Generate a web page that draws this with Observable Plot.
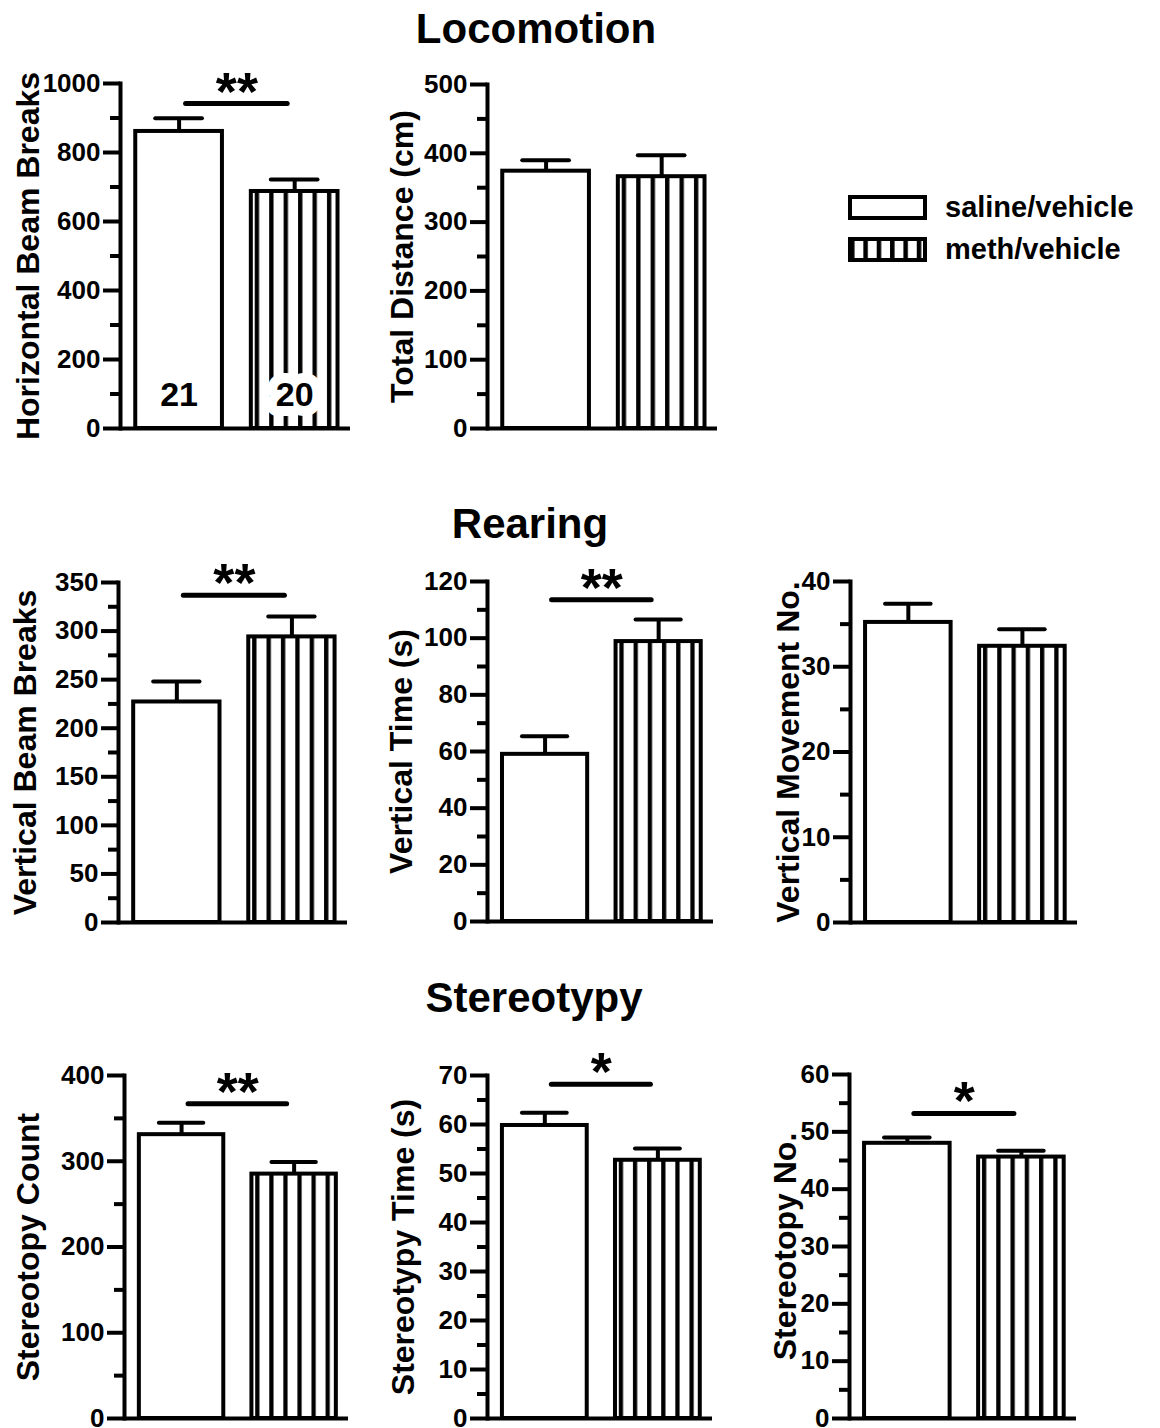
<!DOCTYPE html>
<html>
<head>
<meta charset="utf-8">
<script src="https://cdn.jsdelivr.net/npm/d3@7"></script>
<script src="https://cdn.jsdelivr.net/npm/@observablehq/plot@0.6"></script>
<style>
  body { margin: 0; background: #fff; }
  #page { position: relative; width: 1160px; height: 1428px; overflow: hidden; background: #fff;
          font-family: "Liberation Sans", Arial, Helvetica, sans-serif; font-weight: bold; color: #000; }
  .title { position: absolute; font-size: 42px; line-height: 42px; white-space: nowrap; transform: translateX(-50%); }
  .panel { position: absolute; }
  .legrow { position: absolute; display: flex; align-items: center; height: 29px; font-size: 29px; white-space: nowrap; }
  .legrow span { margin-left: 14px; }
</style>
</head>
<body>
<svg width="0" height="0" style="position:absolute">
  <defs>
    <pattern id="stripes" patternUnits="objectBoundingBox" patternContentUnits="objectBoundingBox" x="0" y="0" width="0.16667" height="1">
      <rect x="0" y="0" width="0.16667" height="1" fill="white"></rect>
      <rect x="0.045" y="0" width="0.05" height="1" fill="black"></rect>
    </pattern>
    <pattern id="stripesLegend" patternUnits="objectBoundingBox" patternContentUnits="objectBoundingBox" x="0" y="0" width="0.178" height="1">
      <rect x="0" y="0" width="0.178" height="1" fill="white"></rect>
      <rect x="0" y="0" width="0.06" height="1" fill="black"></rect>
    </pattern>
  </defs>
</svg>
<div id="page"></div>
<script>
// ---------- data ----------
const groups = ["saline/vehicle", "meth/vehicle"];
const sectionTitles = ["Locomotion", "Rearing", "Stereotypy"];
const panelLabels = ["Horizontal Beam Breaks", "Total Distance (cm)", "Vertical Beam Breaks", "Vertical Time (s)",
                     "Vertical Movement No.", "Stereotopy Count", "Stereotypy Time (s)", "Stereotopy No."];
const meanSaline = [861, 374, 227, 59.0, 35.2, 331, 59.8, 48.0];
const meanMeth   = [687, 366, 294, 98.8, 32.4, 285, 52.7, 45.6];
const semSaline  = [38, 16, 21, 6.4, 2.2, 14, 2.6, 1.0];
const semMeth    = [35, 31, 21, 7.8, 2.0, 14, 2.4, 1.1];
const yMax = [1000, 500, 350, 120, 40, 400, 70, 60];
const majorTicks = [
  [0, 200, 400, 600, 800, 1000],
  [0, 100, 200, 300, 400, 500],
  [0, 50, 100, 150, 200, 250, 300, 350],
  [0, 20, 40, 60, 80, 100, 120],
  [0, 10, 20, 30, 40],
  [0, 100, 200, 300, 400],
  [0, 10, 20, 30, 40, 50, 60, 70],
  [0, 10, 20, 30, 40, 50, 60]
];
const minorTicks = [
  [100, 300, 500, 700, 900],
  [50, 150, 250, 350, 450],
  [25, 75, 125, 175, 225, 275, 325],
  [10, 30, 50, 70, 90, 110],
  [5, 15, 25, 35],
  [50, 150, 250, 350],
  [5, 15, 25, 35, 45, 55, 65],
  [5, 15, 25, 35, 45, 55]
];
const sigStars = ["**", null, "**", "**", null, "**", "*", "*"];
const sigLevel = [942, null, 337, 113.6, null, 367, 68.2, 53.2];
const groupN = [21, 20];

// ---------- layout (pixels) ----------
// axisX, topY, zeroY, frameWidth, labelOffset
const layout = [
  [120, 83, 428, 230, 82],
  [487, 84, 428, 230, 75],
  [118, 582, 922, 229, 83],
  [487, 581, 921, 226, 76],
  [850, 581, 922, 227, 52],
  [124, 1075, 1418, 224, 86],
  [487, 1075, 1418, 225, 74],
  [849, 1074, 1418, 227, 54]
];
const titlePos = [[536, 8], [530, 503], [534, 977]];

const page = document.getElementById("page");
const FONT = '"Liberation Sans", Arial, Helvetica, sans-serif';

sectionTitles.forEach((t, k) => {
  const d = document.createElement("div");
  d.className = "title";
  d.textContent = t;
  d.style.left = titlePos[k][0] + "px";
  d.style.top = titlePos[k][1] + "px";
  page.appendChild(d);
});

function makePanel(i) {
  const [ax, top, zero, fw, lo] = layout[i];
  const mL = 118, mR = 14, mT = 62, mB = 20;
  const h = zero - top;
  const pi = 0.25, po = 0.12;
  const step = fw / (groups.length - pi + 2 * po);
  const bw = step * (1 - pi);
  const data = groups.map((g, k) => ({
    group: g,
    mean: k ? meanMeth[i] : meanSaline[i],
    sem: k ? semMeth[i] : semSaline[i],
    n: groupN[k]
  }));
  const marks = [
    Plot.barY(data.filter(d => d.group === groups[0]), {x: "group", y: "mean", fill: "white", stroke: "black", strokeWidth: 4}),
    Plot.barY(data.filter(d => d.group === groups[1]), {x: "group", y: "mean", fill: "url(#stripes)", stroke: "black", strokeWidth: 4})
  ];
  if (i === 0) {
    marks.push(Plot.text(data, {x: "group", y: 0, text: d => String(d.n), dy: -23, lineAnchor: "bottom",
      fontSize: 34, fontWeight: "bold", fill: "black", stroke: "white", strokeWidth: 20, strokeLinejoin: "round", paintOrder: "stroke"}));
  }
  marks.push(
    Plot.ruleX(data, {x: "group", y1: "mean", y2: d => d.mean + d.sem, strokeWidth: 4}),
    Plot.tickY(data, {x: "group", y: d => d.mean + d.sem, strokeWidth: 4, strokeLinecap: "round", insetLeft: 20, insetRight: 20})
  );
  if (sigStars[i]) {
    marks.push(
      Plot.ruleY([sigLevel[i]], {y: d => d, x1: [groups[0]], x2: [groups[1]], insetLeft: bw / 2 + 7, insetRight: bw / 2 + 7,
        strokeWidth: 5, strokeLinecap: "round"}),
      Plot.text([sigStars[i]], {x: [groups[0]], y: [sigLevel[i]], text: d => d, dx: step / 2, dy: 6, lineAnchor: "bottom",
        fontSize: 54, fontWeight: "bold"})
    );
  }
  marks.push(
    Plot.ruleY([0], {strokeWidth: 4}),
    Plot.frame({anchor: "left", strokeWidth: 4}),
    Plot.axisY({ticks: majorTicks[i], tickSize: 17, tickPadding: 3, strokeWidth: 4, fontSize: 26, fontWeight: "bold",
      tickFormat: d => String(d), label: null}),
    Plot.axisY({ticks: minorTicks[i], tickSize: 10, strokeWidth: 4, tickFormat: () => "", label: null}),
    Plot.text([panelLabels[i]], {text: d => d, frameAnchor: "left", rotate: -90, dx: -lo, lineAnchor: "bottom",
      textAnchor: "middle", fontSize: 32, fontWeight: "bold"})
  );
  const plot = Plot.plot({
    width: mL + fw + mR,
    height: mT + h + mB,
    marginLeft: mL, marginRight: mR, marginTop: mT, marginBottom: mB,
    x: {domain: groups, paddingInner: pi, paddingOuter: po, align: 0.55, round: false, axis: null},
    y: {domain: [0, yMax[i]]},
    style: {fontFamily: FONT, fontWeight: "bold", fontSize: "26px", background: "transparent", overflow: "visible", color: "black"},
    marks
  });
  const div = document.createElement("div");
  div.className = "panel";
  div.style.left = (ax - mL) + "px";
  div.style.top = (top - mT) + "px";
  div.style.width = (mL + fw + mR) + "px";
  div.appendChild(plot);
  page.appendChild(div);
}
for (let i = 0; i < panelLabels.length; i++) makePanel(i);

// legend
const swatchFill = ["white", "url(#stripesLegend)"];
const legendTop = [193, 235];
groups.forEach((g, k) => {
  const row = document.createElement("div");
  row.className = "legrow";
  row.style.left = "846px";
  row.style.top = legendTop[k] + "px";
  row.innerHTML = `<svg width="85" height="29" style="display:block"><rect x="4" y="4" width="75" height="21" fill="${swatchFill[k]}" stroke="black" stroke-width="4"></rect></svg><span>${g}</span>`;
  page.appendChild(row);
});
</script>
</body>
</html>
